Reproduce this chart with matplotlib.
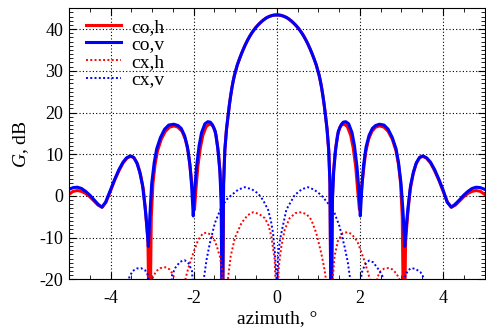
import matplotlib
matplotlib.use('Agg')
import matplotlib.pyplot as plt
from matplotlib.ticker import MultipleLocator

# main beam, shared by both co-polar curves
beam_x = [-1.28, -1.25, -1.21, -1.17, -1.14, -1.11, -1.08, -1.05, -1.02, -0.99, -0.95, -0.9,
          -0.85, -0.8, -0.75, -0.7, -0.65, -0.6, -0.55, -0.5, -0.45, -0.4, -0.35, -0.3, -0.25,
          -0.2, -0.15, -0.1, -0.05, 0.0, 0.05, 0.1, 0.15, 0.2, 0.25, 0.3, 0.35, 0.4, 0.45, 0.5,
          0.55, 0.6, 0.65, 0.7, 0.75, 0.8, 0.85, 0.9, 0.95, 0.99, 1.02, 1.05, 1.08, 1.11, 1.14,
          1.17, 1.21, 1.25, 1.28]
beam_y = [3.0, 11.0, 16.0, 19.5, 21.9, 24.0, 25.9, 27.5, 28.9, 30.0, 31.4, 32.8,
          34.1, 35.3, 36.4, 37.4, 38.3, 39.1, 39.8, 40.45, 41.0, 41.5, 41.95, 42.35, 42.7,
          42.95, 43.15, 43.3, 43.38, 43.4, 43.38, 43.3, 43.15, 42.95, 42.7, 42.35, 41.95, 41.5, 41.0, 40.45,
          39.8, 39.1, 38.3, 37.4, 36.4, 35.3, 34.1, 32.8, 31.4, 30.0, 28.9, 27.5, 25.9, 24.0, 21.9,
          19.5, 16.0, 11.0, 3.0]

# co-polar, vertical (blue solid): sidelobes left and right of the beam
cov_lx = [-5.0, -4.9, -4.8, -4.7, -4.6, -4.5, -4.4, -4.3, -4.21, -4.12, -4.0, -3.9, -3.8, -3.7,
          -3.62, -3.53, -3.45, -3.37, -3.3, -3.23, -3.17, -3.12, -3.09, -3.05, -3.01, -2.95,
          -2.89, -2.8, -2.7, -2.6, -2.48, -2.38, -2.3, -2.22, -2.15, -2.09, -2.05, -2.01, -1.98,
          -1.93, -1.87, -1.81, -1.73, -1.66, -1.6, -1.55, -1.48, -1.42, -1.37, -1.34, -1.31]
cov_ly = [1.6, 2.0, 2.1, 1.8, 1.1, 0.2, -0.9, -2.0, -2.7, -1.5, 1.5, 4.0, 6.3, 8.1,
          9.1, 9.6, 9.3, 8.0, 5.8, 2.5, -2.6, -8.0, -12.1, -4.0, 3.0, 8.0,
          11.3, 14.0, 16.0, 17.0, 17.2, 16.9, 16.2, 14.5, 11.8, 7.5, 2.5, -4.8, 1.0,
          7.0, 12.0, 15.2, 17.3, 17.8, 17.7, 17.1, 15.5, 11.5, 6.0, -1.0, -35.0]
cov_rx = [1.31, 1.34, 1.37, 1.42, 1.48, 1.55, 1.6, 1.66, 1.73, 1.81, 1.87, 1.93,
          1.98, 2.01, 2.05, 2.09, 2.15, 2.22, 2.3, 2.38, 2.47, 2.58, 2.68, 2.78, 2.87, 2.93,
          2.99, 3.04, 3.08, 3.11, 3.16, 3.22, 3.29, 3.36, 3.44, 3.52, 3.61, 3.7, 3.8, 3.9, 4.0,
          4.1, 4.2, 4.29, 4.4, 4.5, 4.6, 4.7, 4.8, 4.9, 5.0]
cov_ry = [-35.0, -1.0, 6.0, 11.5, 15.5, 17.1, 17.7, 17.8, 17.3, 15.2, 12.0, 7.0,
          1.0, -4.8, 2.5, 7.5, 11.8, 14.5, 16.2, 16.9, 17.2, 17.0, 16.0, 14.0, 11.3, 8.0,
          3.0, -4.0, -12.1, -8.0, -2.6, 2.5, 5.8, 8.0, 9.3, 9.6, 9.1, 8.1, 6.3, 4.0, 1.5,
          -1.5, -2.7, -2.0, -0.9, 0.2, 1.1, 1.8, 2.1, 2.0, 1.6]

# co-polar, horizontal (red solid)
coh_lx = [-5.0, -4.9, -4.8, -4.7, -4.6, -4.5, -4.4, -4.3, -4.2, -4.11, -4.0, -3.9, -3.8, -3.7,
          -3.6, -3.51, -3.43, -3.35, -3.28, -3.21, -3.15, -3.1, -3.06, -3.02, -2.98, -2.93,
          -2.87, -2.78, -2.68, -2.58, -2.47, -2.38, -2.28, -2.2, -2.13, -2.07, -2.02, -1.98,
          -1.95, -1.9, -1.84, -1.78, -1.7, -1.63, -1.57, -1.52, -1.46, -1.4, -1.36, -1.33, -1.31]
coh_ly = [0.4, 1.1, 1.3, 1.1, 0.6, -0.2, -1.2, -2.2, -2.7, -1.5, 1.2, 3.8, 6.0, 7.9,
          9.1, 9.5, 9.1, 7.6, 5.2, 1.5, -4.5, -11.0, -40.0, -5.0, 3.0, 7.5,
          10.8, 13.6, 15.5, 16.5, 16.8, 16.5, 15.5, 13.6, 10.5, 5.5, 0.5, -3.3,
          1.0, 7.0, 11.5, 14.5, 16.6, 17.2, 17.1, 16.5, 14.5, 10.0, 5.0, -2.0, -40.0]
coh_rx = [1.31, 1.33, 1.36, 1.4, 1.46, 1.52, 1.57, 1.63, 1.7, 1.78, 1.84, 1.9,
          1.95, 1.99, 2.03, 2.08, 2.14, 2.21, 2.29, 2.38, 2.47, 2.58, 2.68, 2.78, 2.87, 2.93,
          2.98, 3.02, 3.06, 3.1, 3.15, 3.21, 3.28, 3.35, 3.43, 3.51, 3.6, 3.7, 3.8, 3.9, 4.0,
          4.11, 4.2, 4.3, 4.4, 4.5, 4.6, 4.7, 4.8, 4.9, 5.0]
coh_ry = [-40.0, -2.0, 5.0, 10.0, 14.5, 16.5, 17.1, 17.2, 16.6, 14.5, 11.5, 7.0,
          1.0, -3.3, 0.5, 5.5, 10.5, 13.6, 15.5, 16.5, 16.8, 16.5, 15.5, 13.6, 10.8, 7.5,
          3.0, -5.0, -40.0, -11.0, -4.5, 1.5, 5.2, 7.6, 9.1, 9.5, 9.1, 7.9, 6.0, 3.8, 1.2,
          -1.5, -2.7, -2.2, -1.2, -0.2, 0.6, 1.1, 1.3, 1.1, 0.4]

# cross-polar, horizontal (red dotted)
cxh_x = [-3.04, -2.98, -2.9, -2.8, -2.68, -2.58, -2.5, -2.44, -2.4,
         -2.24, -2.2, -2.13, -2.01, -1.89, -1.78, -1.69, -1.6, -1.49, -1.43, -1.37, -1.31, -1.28,
         -1.2, -1.17, -1.11, -1.01, -0.85, -0.7, -0.57, -0.43, -0.29, -0.2, -0.13, -0.05, 0.0,
         0.05, 0.11, 0.19, 0.31, 0.45, 0.59, 0.72, 0.83, 0.95, 1.07, 1.15, 1.19, 1.22,
         1.3, 1.35, 1.39, 1.47, 1.59, 1.7, 1.8, 1.94, 2.1, 2.2, 2.25, 2.3,
         2.36, 2.42, 2.5, 2.59, 2.68, 2.78, 2.88, 2.96, 3.0]
cxh_y = [-30.0, -19.5, -18.0, -17.3, -17.1, -17.6, -18.8, -20.5, -30.0,
         -30.0, -20.0, -17.3, -13.7, -10.5, -9.0, -8.8, -9.2, -10.8, -12.5, -14.5, -18.0, -30.0,
         -30.0, -19.5, -14.5, -10.1, -6.5, -4.6, -3.9, -4.3, -5.3, -7.0, -9.7, -15.3, -30.0,
         -16.9, -12.1, -8.1, -5.3, -4.1, -3.9, -4.4, -5.7, -8.9, -13.7, -17.7, -20.5, -30.0,
         -30.0, -19.5, -14.5, -10.8, -8.9, -8.7, -9.1, -10.9, -15.3, -18.5, -20.5, -30.0,
         -30.0, -19.5, -18.0, -17.4, -17.3, -17.6, -18.6, -20.2, -30.0]

# cross-polar, vertical (blue dotted)
cxv_x = [-3.62, -3.55, -3.47, -3.37, -3.27, -3.17, -3.1, -3.04,
         -2.6, -2.52, -2.44, -2.33, -2.22, -2.12, -2.04, -1.97,
         -1.79, -1.75, -1.69, -1.61, -1.49, -1.33, -1.2, -1.09, -0.93, -0.77, -0.6, -0.45,
         -0.33, -0.21, -0.14, -0.09, -0.05, -0.01, 0.0, 0.03, 0.07, 0.11, 0.23, 0.43, 0.6,
         0.75, 0.9, 1.07, 1.27, 1.39, 1.51, 1.63, 1.71, 1.76, 1.79,
         1.98, 2.04, 2.12, 2.22, 2.32, 2.44, 2.56, 2.62,
         3.02, 3.08, 3.16, 3.24, 3.34, 3.46, 3.56, 3.62]
cxv_y = [-30.0, -19.5, -18.0, -17.4, -17.3, -17.8, -19.0, -30.0,
         -30.0, -19.0, -17.2, -15.8, -15.4, -16.2, -18.0, -30.0,
         -30.0, -19.5, -15.3, -11.3, -6.5, -2.6, -0.8, 0.2, 1.5, 2.1, 1.6, 0.6,
         -1.0, -3.3, -6.0, -8.9, -13.0, -19.0, -30.0, -15.0, -11.0, -8.9, -3.3, 0.2, 1.6,
         2.1, 1.5, 0.2, -2.2, -4.1, -7.3, -12.1, -15.9, -19.5, -30.0,
         -30.0, -18.5, -16.5, -15.5, -15.9, -17.5, -19.5, -30.0,
         -30.0, -19.5, -17.8, -17.3, -17.5, -18.3, -20.0, -30.0]

xticks = [-4, -2, 0, 2, 4]
yticks = [-20, -10, 0, 10, 20, 30, 40]


def main():
    plt.rcParams['font.family'] = ['Liberation Serif', 'DejaVu Serif']
    plt.rcParams['mathtext.fontset'] = 'custom'
    plt.rcParams['mathtext.rm'] = 'Liberation Serif'
    plt.rcParams['mathtext.it'] = 'Liberation Serif:italic'

    fig = plt.figure(figsize=(4.86, 3.31), dpi=100)
    ax = fig.add_axes([0.142, 0.156, 0.855, 0.819])

    coh_x = coh_lx + beam_x + coh_rx
    coh_y = coh_ly + beam_y + coh_ry
    cov_x = cov_lx + beam_x + cov_rx
    cov_y = cov_ly + beam_y + cov_ry

    ax.plot(coh_x, coh_y, color='#ff0000', lw=2.2, label='co,h')
    ax.plot(cov_x, cov_y, color='#0000ff', lw=2.2, label='co,v')
    ax.plot(cxh_x, cxh_y, color='#ff0000', lw=1.4, ls=(0, (1, 1.2)), label='cx,h')
    ax.plot(cxv_x, cxv_y, color='#0000ff', lw=1.4, ls=(0, (1, 1.2)), label='cx,v')

    ax.set_xlim(-5, 5)
    ax.set_ylim(-20, 45)
    ax.set_xticks(xticks)
    ax.set_xticklabels([str(t) for t in xticks])
    ax.set_yticks(yticks)
    ax.set_yticklabels([str(t) for t in yticks])
    ax.xaxis.set_minor_locator(MultipleLocator(0.5))
    ax.yaxis.set_minor_locator(MultipleLocator(1))
    ax.tick_params(which='both', direction='in', top=True, right=True)
    ax.tick_params(which='major', length=5, labelsize=13)
    ax.tick_params(which='minor', length=3)
    ax.tick_params(axis='x', pad=8)
    ax.tick_params(axis='y', pad=4)

    ax.grid(True, which='major', color='k', ls=(0, (1, 2)), lw=0.8)

    ax.set_xlabel('azimuth, °', fontsize=14, labelpad=2)
    ax.set_ylabel('$G$, dB', fontsize=14, labelpad=6)

    ax.legend(loc='upper left', bbox_to_anchor=(0.018, 1.0), frameon=False,
              fontsize=14, handlelength=1.8, handletextpad=0.5, labelspacing=0.0,
              borderaxespad=0.1, borderpad=0.4)

    fig.savefig('out.png', dpi=100)


if __name__ == "__main__":
    main()
